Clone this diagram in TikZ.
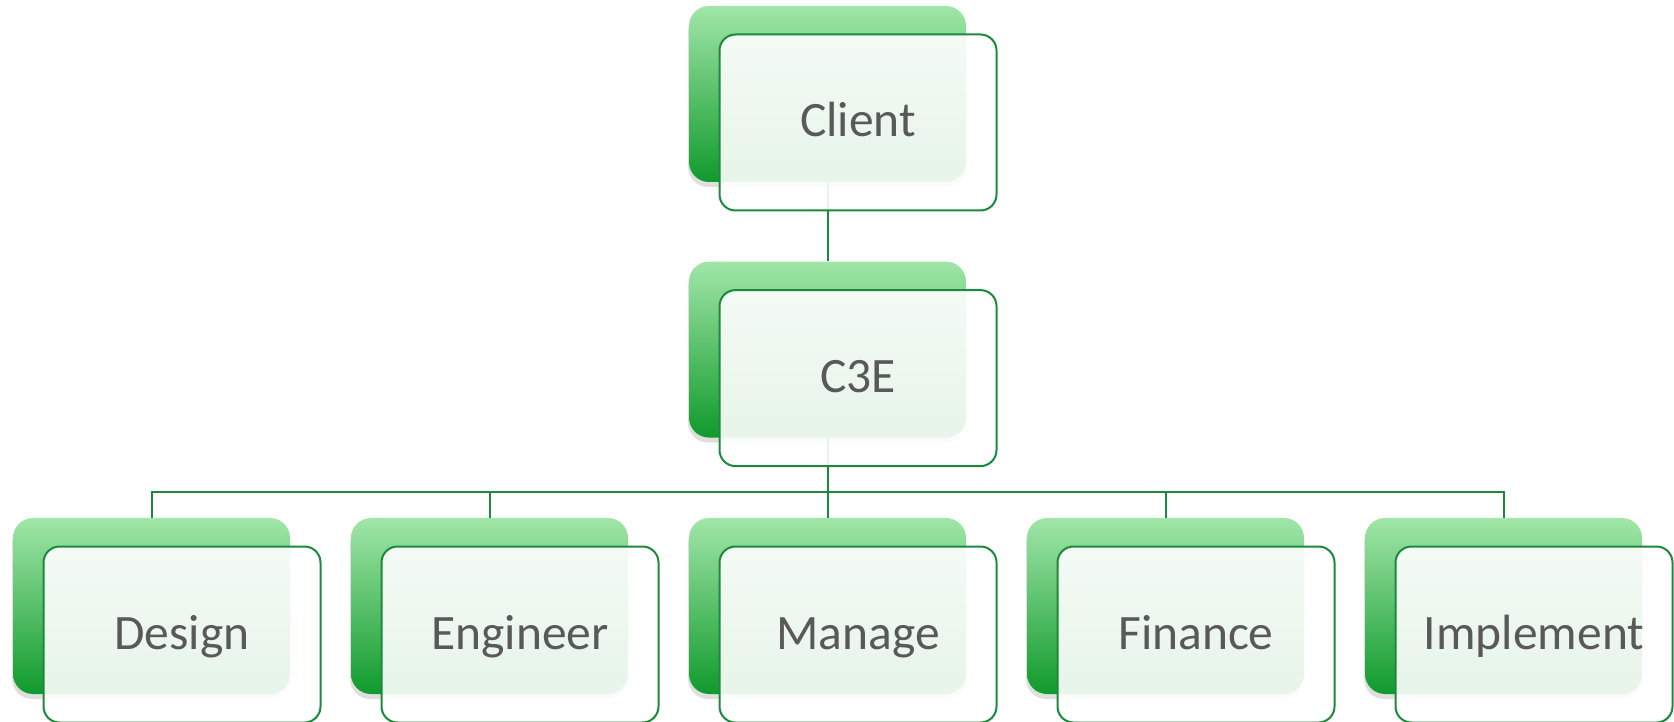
\documentclass[tikz,border=0pt]{standalone}
\usepackage{fontspec}
\setmainfont{Carlito}
\usetikzlibrary{shadows}

\definecolor{gtop}{RGB}{161,230,168}
\definecolor{gbot}{RGB}{16,154,44}
\definecolor{gline}{RGB}{27,138,60}
\definecolor{txtgray}{RGB}{89,89,89}

\tikzset{
  backbox/.style={rounded corners=20pt, minimum width=277pt, minimum height=176pt,
    inner sep=0pt, top color=gtop, bottom color=gbot,
    drop shadow={shadow xshift=-1pt, shadow yshift=-5pt, opacity=0.25}},
  frontbox/.style={draw=gline, line width=2pt, rounded corners=16pt,
    fill=white, fill opacity=0.9, text opacity=1,
    minimum width=277pt, minimum height=176pt, inner sep=0pt,
    text=txtgray, font=\fontsize{49.5}{55}\selectfont,
    text height=32pt, text depth=3pt},
  link/.style={draw=gline, line width=2pt},
}

\begin{document}
\begin{tikzpicture}[x=1pt,y=1pt]
  \useasboundingbox (0,0) rectangle (1674,721);

  % back blocks
  \node[backbox] (client-bg) at (827.5,627) {};
  \node[backbox] (c3e-bg) at (827.5,371.4) {};
  \foreach \name [count=\i from 0] in {design,engineer,manage,finance,implement} {
    \node[backbox] (\name-bg) at ({151.5+338*\i},115) {};
  }

  % connectors
  \draw[link] (client-bg.south) -- (c3e-bg.north);
  \foreach \name in {design,engineer,manage,finance,implement} {
    \draw[link] (c3e-bg.south) -- ++(0,-54) -| (\name-bg.north);
  }

  % front blocks with labels
  \node[frontbox] (client) at ([shift={(30.5,-28.5)}]client-bg) {Client};
  \node[frontbox] (c3e) at ([shift={(30.5,-28.5)}]c3e-bg) {C3E};
  \foreach \name/\lbl in {design/Design,engineer/Engineer,manage/Manage,finance/Finance,implement/Implement} {
    \node[frontbox] (\name) at ([shift={(30.5,-28.5)}]\name-bg) {\lbl};
  }
\end{tikzpicture}
\end{document}
